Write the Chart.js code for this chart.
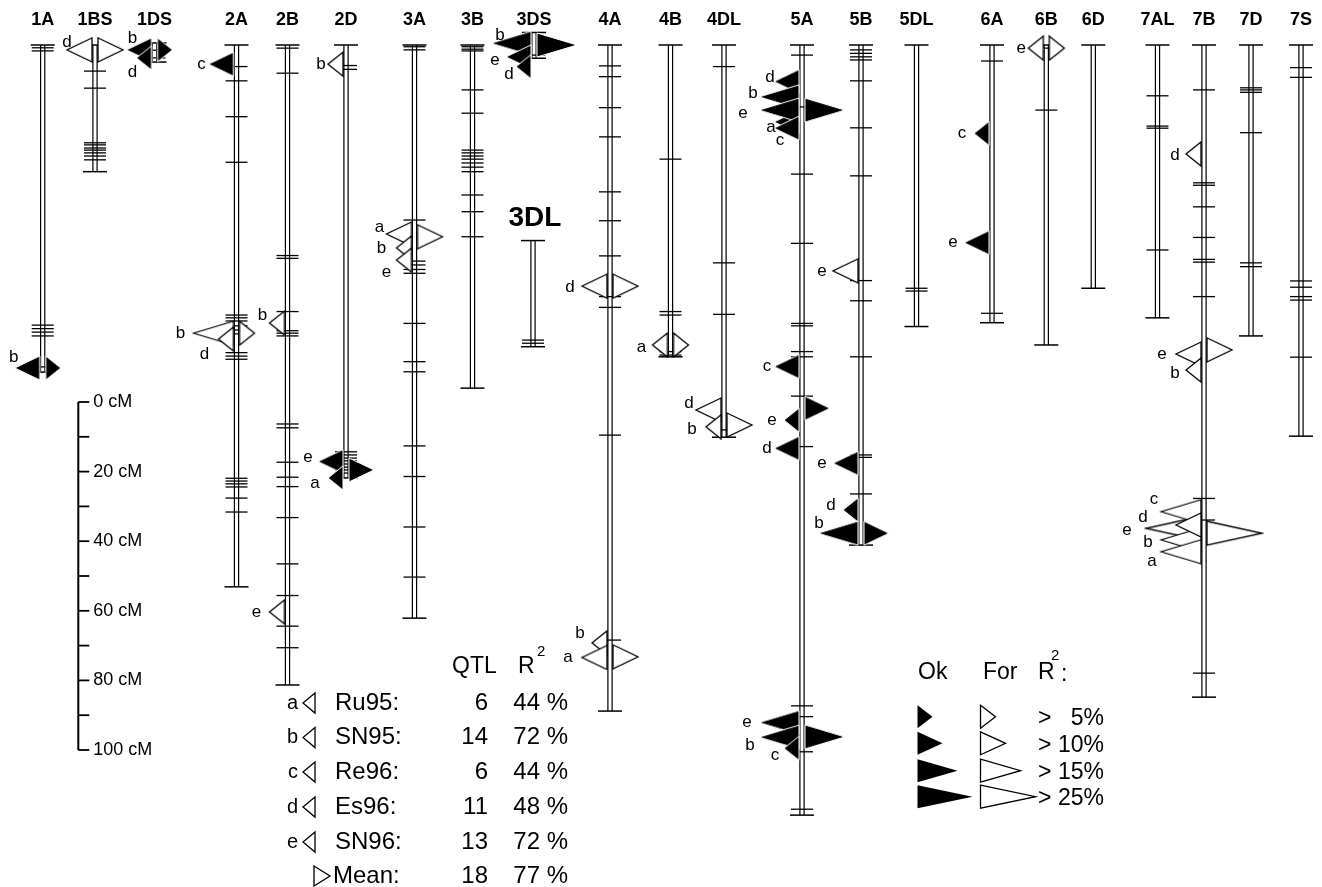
<!DOCTYPE html>
<html>
<head>
<meta charset="utf-8">
<script src="https://cdn.jsdelivr.net/npm/chart.js@4.4.0/dist/chart.umd.min.js"></script>
<style>
html,body{margin:0;padding:0;background:#fff;}
#c{display:block;}
</style>
</head>
<body>
<canvas id="c" width="1322" height="887"></canvas>
<script>
// ================= DATA =================
const chromosomes = ['1A','1BS','1DS','2A','2B','2D','3A','3B','3DS','3DL','4A','4B','4DL','5A','5B','5DL','6A','6B','6D','7AL','7B','7D','7S'];
// chromosome extent (cM, from the top line of the map)
const chromStart = [0, 0, -0.6, 0, 0, 0, 0, 0, -3.6, 56.2, 0, 0, 0, 0, 0, 0, 0, 0, 0, 0, 0, 0, 0];
const chromEnd   = [94.0, 36.4, 4.9, 155.7, 183.9, 124.4, 164.7, 98.6, 3.8, 86.7, 191.4, 89.6, 112.7, 221.3, 143.7, 80.9, 79.8, 86.2, 69.9, 78.4, 187.4, 83.6, 112.4];
// marker positions (cM) per chromosome
const markerPositions = [
  [0.8, 1.7, 80.5, 81.5, 82.5, 83.6, 92.5],
  [7.5, 12.4, 28.1, 28.7, 29.6, 30.2, 31.0, 31.9, 33.0],
  [1.5, 3.7],
  [6.2, 10.3, 20.6, 33.7, 77.6, 78.4, 79.3, 80.7, 81.9, 83.0, 88.4, 89.4, 90.3, 124.5, 125.3, 126.1, 127.0, 130.2, 134.2],
  [0.9, 8.1, 60.5, 61.3, 76.6, 82.1, 82.8, 83.6, 108.9, 110.0, 119.9, 124.2, 126.9, 135.8, 149.1, 158.2, 167.0, 173.2],
  [5.9, 7.0, 116.9, 117.8, 118.7, 119.5, 120.4, 121.3, 122.1, 123.0],
  [0.5, 1.4, 50.3, 62.1, 63.2, 64.5, 65.6, 80.0, 91.0, 93.9, 115.2, 124.0, 138.5, 152.9],
  [0.5, 1.2, 1.7, 12.9, 19.6, 30.2, 31.0, 31.9, 32.8, 33.9, 35.1, 36.4, 43.1, 47.9, 55.1],
  [2.9],
  [84.8, 85.7],
  [6.0, 9.1, 18.0, 26.4, 42.2, 50.5, 60.6, 72.3, 75.4, 112.1, 171.0],
  [32.8, 76.6, 77.6, 88.1, 89.1],
  [6.2, 62.6, 77.4, 110.6],
  [2.9, 17.8, 37.1, 57.0, 80.0, 80.7, 88.1, 89.6, 100.9, 115.4, 189.9, 193.0, 203.1, 219.6],
  [1.4, 2.4, 3.4, 4.3, 10.3, 23.8, 37.6, 67.7, 73.5, 89.6, 117.8, 118.5, 129.0],
  [69.9, 70.7],
  [4.6, 77.1],
  [0.9, 18.7],
  [],
  [14.6, 23.3, 23.9, 58.9],
  [12.9, 39.6, 40.3, 46.5, 55.3, 61.6, 62.4, 72.3, 130.3, 136.5, 180.5],
  [12.3, 12.9, 13.6, 25.2, 62.6, 63.7],
  [6.5, 9.3, 67.8, 69.6, 72.3, 73.3, 89.7]
];

// QTLs: chromosome, position (cM), environment, R2 class (1:>5%,2:>10%,3:>15%,4:>25%), Ok(1)/For(0)
const qtlChrom = ['1A','1A','1BS','1BS','1DS','1DS','1DS','2A','2A','2A','2A','2B','2B','2D','2D','2D','2D','3A','3A','3A','3A','3DS','3DS','3DS','3DS','4A','4A','4A','4A','4A','4B','4B','4DL','4DL','4DL','5A','5A','5A','5A','5A','5A','5A','5A','5A','5A','5A','5A','5A','5A','5B','5B','5B','5B','5B','6A','6A','6B','6B','7B','7B','7B','7B','7B','7B','7B','7B','7B','7B'];
const qtlPos = [92.8,92.8,1.4,1.4,1.4,3.7,1.4,5.5,82.8,84.5,82.8,79.9,162.9,5.5,119.7,124.4,122.1,54.3,58.3,61.8,55.1,-0.5,3.4,6.2,0,69.3,69.3,171.8,176.0,175.8,86.2,86.2,104.9,109.7,109.2,22.1,10.5,14.9,18.7,23.9,18.7,92.4,107.8,104.4,115.9,194.7,198.9,202.1,198.8,64.9,120.2,133.6,140.3,140.3,25.4,56.8,0.9,0.9,31.3,88.8,93.4,87.6,138.9,134.1,142.2,145.6,137.9,140.3];
const qtlEnv = ['b','mean','d','mean','b','d','mean','c','b','d','mean','b','e','b','e','a','mean','a','b','e','mean','b','e','d','mean','d','mean','b','a','mean','a','mean','d','b','mean','a','d','b','e','c','mean','c','e','mean','d','e','b','c','mean','e','e','d','b','mean','c','e','e','mean','d','e','b','mean','e','c','b','a','d','mean'];
const qtlClass = [2,1,2,2,2,1,1,2,3,1,1,1,1,1,2,1,2,2,1,1,2,3,2,1,3,2,2,1,2,2,1,1,2,1,2,2,2,3,3,2,3,2,1,2,2,3,3,1,3,2,2,1,3,2,1,2,1,1,1,2,1,2,4,3,3,3,2,4];
const qtlOk = [1,1,0,0,1,1,1,1,0,0,0,0,0,0,1,1,1,0,0,0,0,1,1,1,1,0,0,0,0,0,0,0,0,0,0,1,1,1,1,1,1,1,1,1,1,1,1,1,1,0,1,1,1,1,1,1,0,0,0,0,0,0,0,0,0,0,0,0];

// legend / scale texts
const envLetters = ['a','b','c','d','e'];
const envNames = ['Ru95:','SN95:','Re96:','Es96:','SN96:','Mean:'];
const qtlCounts = ['6','14','6','11','13','18'];
const r2Totals = ['44 %','72 %','44 %','48 %','72 %','77 %'];
const r2ClassLabels = ['5%','10%','15%','25%'];
const scaleTicks = [0,10,20,30,40,50,60,70,80,90,100];
const scaleTickLabels = ['0 cM','','20 cM','','40 cM','','60 cM','','80 cM','','100 cM'];

// ================= LAYOUT =================
const chromX = [42.7, 95, 154.5, 236.5, 287.5, 346, 414.5, 472.5, 534, 533, 610, 670.5, 724, 802, 861, 916.5, 992, 1046.3, 1093.3, 1157.5, 1204, 1251, 1301];
const PX_PER_CM = 3.48, TOP_PX = 45, H = 887, W = 1322;
const Y_MIN = -TOP_PX / PX_PER_CM, Y_MAX = Y_MIN + H / PX_PER_CM;
const RAIL = 2.1, TRI_H = 24, TRI_GAP = 3;
const classWidths = [0, 15, 25, 40, 55];
const SCALE_X = 78.3, SCALE_ORIGIN = (402 - TOP_PX) / PX_PER_CM;
const qtlLabelNudge = [[6,-11],[0,0],[7,-8],[0,0],[13,-12],[3,14],[0,0],[0,0],[-6,0],[-7,15],[0,0],[0,-8],[-6,0],[0,0],[-3,-4],[-6,5],[0,0],[0,-7],[-8,0],[-3,12],[0,0],[16,-8],[-4,3],[0,8],[0,0],[-5,1],[0,0],[-5,-10],[-7,0],[0,0],[-4,2],[0,0],[0,-7],[-7,3],[0,0],[4,5],[3,-4],[1,-4],[-9,3],[13,12],[0,0],[0,0],[-5,0],[0,0],[0,0],[-5,0],[-2,8],[-2,7],[0,0],[-4,0],[-4,0],[-5,-5],[8,-10],[0,0],[-5,0],[-4,0],[0,0],[0,0],[-4,1],[-7,0],[-4,3],[0,0],[-12,2],[0,-12],[-6,2],[-2,10],[-26,-8],[0,0]];
const FONT = '"Liberation Sans", Arial, Helvetica, sans-serif';

const ci = name => chromosomes.indexOf(name);

// ---- triangle images used as point styles ----
function triPath(ctx, baseX, cy, w, h, dir) {
  ctx.beginPath();
  ctx.moveTo(baseX, cy - h / 2);
  ctx.lineTo(baseX + dir * w, cy);
  ctx.lineTo(baseX, cy + h / 2);
  ctx.closePath();
}
function triCanvas(dir, w, filled) {
  const c = document.createElement('canvas');
  c.width = 2 * (w + TRI_GAP) + 4;
  c.height = TRI_H + 2;
  const g = c.getContext('2d');
  const cx = c.width / 2;
  const baseX = cx + dir * TRI_GAP;
  triPath(g, baseX, c.height / 2, w, TRI_H, dir);
  if (filled) {
    g.fillStyle = '#000'; g.fill();
    g.strokeStyle = '#fff'; g.lineWidth = 1; g.stroke();
  } else {
    g.fillStyle = '#fff'; g.fill();
    g.strokeStyle = '#000'; g.lineWidth = 1.3; g.stroke();
  }
  return c;
}
const qtlImages = qtlEnv.map((env, i) => triCanvas(env === 'mean' ? 1 : -1, classWidths[qtlClass[i]], qtlOk[i] === 1));

// ---- datasets built from data ----
const railData = [];
const capData = [];
const markerData = [];
chromosomes.forEach((n, i) => {
  [-RAIL, RAIL].forEach(dx => {
    railData.push({x: chromX[i] + dx, y: chromStart[i]}, {x: chromX[i] + dx, y: chromEnd[i]}, {x: chromX[i] + dx, y: null});
  });
  capData.push({x: chromX[i], y: chromStart[i]}, {x: chromX[i], y: chromEnd[i]});
  markerPositions[i].forEach(m => markerData.push({x: chromX[i], y: m}));
});
const qtlData = qtlChrom.map((c, i) => ({x: chromX[ci(c)], y: qtlPos[i]}));
const scaleLine = [{x: SCALE_X, y: SCALE_ORIGIN}, {x: SCALE_X, y: SCALE_ORIGIN + 100}];
const scaleTickData = scaleTicks.map(t => ({x: SCALE_X + 5.5, y: SCALE_ORIGIN + t}));

// ---- annotation plugin (texts + legend) ----
const annotPlugin = {
  id: 'annot',
  afterDatasetsDraw(chart) {
    const ctx = chart.ctx, xs = chart.scales.x, ys = chart.scales.y;
    const px = v => xs.getPixelForValue(v), py = v => ys.getPixelForValue(v);
    ctx.save();
    ctx.fillStyle = '#000'; ctx.strokeStyle = '#000';
    ctx.textBaseline = 'middle';

    // chromosome names
    ctx.font = 'bold 18px ' + FONT; ctx.textAlign = 'center';
    chromosomes.forEach((n, i) => {
      if (n === '3DL') return;
      ctx.fillText(n, px(chromX[i]), py(0) - 25);
    });
    const d3 = ci('3DL');
    ctx.font = 'bold 28px ' + FONT;
    ctx.fillText('3DL', px(chromX[d3]) + 2, py(chromStart[d3]) - 22);

    // QTL letters
    ctx.font = '17px ' + FONT; ctx.textAlign = 'center';
    qtlEnv.forEach((env, i) => {
      if (env === 'mean') return;
      const tip = px(qtlData[i].x) - TRI_GAP - classWidths[qtlClass[i]];
      const [dx, dy] = qtlLabelNudge[i];
      ctx.fillText(env, tip - 7 + dx, py(qtlPos[i]) + dy);
    });

    // scale labels
    ctx.font = '18px ' + FONT; ctx.textAlign = 'left';
    scaleTicks.forEach((t, i) => {
      if (scaleTickLabels[i]) ctx.fillText(scaleTickLabels[i], px(SCALE_X) + 15, py(SCALE_ORIGIN + t));
    });

    // ---- left legend ----
    ctx.font = '23px ' + FONT; ctx.textAlign = 'left';
    ctx.fillText('QTL', 452, 667);
    ctx.fillText('R', 518, 667);
    ctx.font = '15px ' + FONT;
    ctx.fillText('2', 537, 652);
    const rowsY = [703, 737.5, 772, 807, 842, 876];
    rowsY.forEach((y, r) => {
      ctx.lineWidth = 1.3;
      if (r < 5) {
        ctx.font = '20px ' + FONT; ctx.textAlign = 'right';
        ctx.fillText(envLetters[r], 298, y);
        ctx.beginPath(); ctx.moveTo(315, y - 10); ctx.lineTo(303, y); ctx.lineTo(315, y + 10); ctx.closePath(); ctx.stroke();
      } else {
        ctx.beginPath(); ctx.moveTo(314, y - 10); ctx.lineTo(330, y); ctx.lineTo(314, y + 10); ctx.closePath(); ctx.stroke();
      }
      ctx.font = '24px ' + FONT; ctx.textAlign = 'left';
      ctx.fillText(envNames[r], r < 5 ? 335 : 333, y);
      ctx.textAlign = 'right';
      ctx.fillText(qtlCounts[r], 488, y);
      ctx.fillText(r2Totals[r], 568, y);
    });

    // ---- right legend ----
    ctx.font = '23px ' + FONT; ctx.textAlign = 'left';
    ctx.fillText('Ok', 918, 673);
    ctx.fillText('For', 983, 673);
    ctx.fillText('R', 1038, 673);
    ctx.fillText(':', 1061, 675);
    ctx.font = '15px ' + FONT;
    ctx.fillText('2', 1051, 656);
    const lRows = [716.7, 743.3, 770.7, 796.7];
    lRows.forEach((y, r) => {
      const w = classWidths[r + 1];
      triPath(ctx, 917.5, y, w, 23, 1); ctx.fillStyle = '#000'; ctx.fill();
      triPath(ctx, 980.5, y, w, 23, 1); ctx.fillStyle = '#fff'; ctx.fill();
      ctx.lineWidth = 1.3; ctx.strokeStyle = '#000'; ctx.stroke();
      ctx.fillStyle = '#000';
      ctx.font = '23px ' + FONT;
      ctx.textAlign = 'left'; ctx.fillText('>', 1038, y + 2);
      ctx.textAlign = 'right'; ctx.fillText(r2ClassLabels[r], 1104, y + 2);
    });
    ctx.restore();
  }
};

new Chart(document.getElementById('c'), {
  type: 'scatter',
  data: {
    datasets: [
      { label: 'QTL', data: qtlData, order: 0, pointStyle: ctx => qtlImages[ctx.dataIndex] || 'circle', pointRadius: 5, clip: false },
      { label: 'markers', data: markerData, order: 1, pointStyle: 'line', pointRadius: 11, borderColor: '#000', pointBorderColor: '#000', pointBorderWidth: 1.3, clip: false },
      { label: 'ends', data: capData, order: 2, pointStyle: 'line', pointRadius: 12, borderColor: '#000', pointBorderColor: '#000', pointBorderWidth: 1.5, clip: false },
      { label: 'rails', data: railData, order: 3, showLine: true, spanGaps: false, borderColor: '#000', borderWidth: 1.2, pointRadius: 0, clip: false },
      { label: 'scale', data: scaleLine, order: 4, showLine: true, borderColor: '#000', borderWidth: 2, pointRadius: 0, clip: false },
      { label: 'scaleTicks', data: scaleTickData, order: 5, pointStyle: 'line', pointRadius: 5.5, pointBorderColor: '#000', pointBorderWidth: 1.8, clip: false }
    ]
  },
  options: {
    responsive: false,
    animation: false,
    events: [],
    layout: { padding: 0, autoPadding: false },
    plugins: { legend: { display: false }, tooltip: { enabled: false }, title: { display: false } },
    scales: {
      x: { type: 'linear', min: 0, max: W, display: false },
      y: { type: 'linear', min: Y_MIN, max: Y_MAX, reverse: true, display: false }
    }
  },
  plugins: [annotPlugin]
});
</script>
</body>
</html>
